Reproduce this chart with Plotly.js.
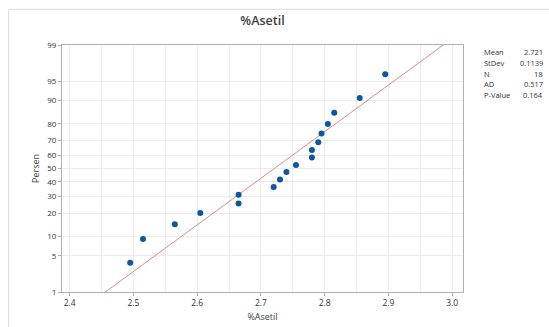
<!DOCTYPE html>
<html>
<head>
<meta charset="utf-8">
<script src="https://cdn.plot.ly/plotly-3.0.1.min.js"></script>
<style>html,body{margin:0;padding:0;background:#fff;}#chart{width:549px;height:327px;}</style>
</head>
<body>
<div id="chart"></div>
<script>
// Data
const asetil = [2.495, 2.515, 2.565, 2.605, 2.665, 2.665, 2.72, 2.73, 2.74, 2.755, 2.78, 2.78, 2.79, 2.795, 2.805, 2.815, 2.855, 2.895];
const statLabels = ["Mean", "StDev", "N", "AD", "P-Value"];
const statValues = ["2.721", "0.1139", "18", "0.517", "0.164"];
const fitMean = 2.721;
const fitStDev = 0.1139;
const yTickPercents = [1, 5, 10, 20, 30, 40, 50, 60, 70, 80, 90, 95, 99];
const xTickVals = [2.4, 2.5, 2.6, 2.7, 2.8, 2.9, 3.0];

// inverse normal CDF (Acklam)
function normInv(p) {
  const a = [-3.969683028665376e+01, 2.209460984245205e+02, -2.759285104469687e+02, 1.383577518672690e+02, -3.066479806614716e+01, 2.506628277459239e+00];
  const b = [-5.447609879822406e+01, 1.615858368580409e+02, -1.556989798598866e+02, 6.680131188771972e+01, -1.328068155288572e+01];
  const c = [-7.784894002430293e-03, -3.223964580411365e-01, -2.400758277161838e+00, -2.549732539343734e+00, 4.374664141464968e+00, 2.938163982698783e+00];
  const d = [7.784695709041462e-03, 3.224671290700398e-01, 2.445134137142996e+00, 3.754408661907416e+00];
  const pl = 0.02425, ph = 1 - pl;
  let q, r;
  if (p < pl) { q = Math.sqrt(-2 * Math.log(p)); return (((((c[0]*q+c[1])*q+c[2])*q+c[3])*q+c[4])*q+c[5]) / ((((d[0]*q+d[1])*q+d[2])*q+d[3])*q+1); }
  if (p <= ph) { q = p - 0.5; r = q*q; return (((((a[0]*r+a[1])*r+a[2])*r+a[3])*r+a[4])*r+a[5])*q / (((((b[0]*r+b[1])*r+b[2])*r+b[3])*r+b[4])*r+1); }
  q = Math.sqrt(-2 * Math.log(1 - p)); return -(((((c[0]*q+c[1])*q+c[2])*q+c[3])*q+c[4])*q+c[5]) / ((((d[0]*q+d[1])*q+d[2])*q+d[3])*q+1);
}

const n = asetil.length;
const sorted = asetil.slice().sort((u, v) => u - v);
const ranksZ = sorted.map((v, i) => normInv((i + 1 - 0.3) / (n + 0.4)));
const pct = sorted.map((v, i) => 100 * (i + 1 - 0.3) / (n + 0.4));

const lineZ = [-3, 3];
const lineX = lineZ.map(z => fitMean + fitStDev * z);

const font = "Open Sans, Noto Sans, sans-serif";

const traces = [
  {x: lineX, y: lineZ, mode: "lines", line: {color: "#d98b86", width: 1}, hoverinfo: "skip", showlegend: false},
  {x: sorted, y: ranksZ, mode: "markers", marker: {color: "#0b57a4", size: 6}, text: pct.map(p => p.toFixed(1)), showlegend: false}
];

const annotations = [];
statLabels.forEach((lab, i) => {
  const yy = 52 + i * 10.6;
  annotations.push({xref: "paper", yref: "paper", x: (482 - 62.3) / (463 - 62.3), y: 1 - (yy - 44.7) / (291.7 - 44.7), xanchor: "left", yanchor: "middle", text: lab, showarrow: false, font: {family: font, size: 7.5, color: "#333"}});
  annotations.push({xref: "paper", yref: "paper", x: (545 - 62.3) / (463 - 62.3), y: 1 - (yy - 44.7) / (291.7 - 44.7), xanchor: "right", yanchor: "middle", text: statValues[i], showarrow: false, font: {family: font, size: 7.5, color: "#333"}});
});

const layout = {
  width: 549, height: 327,
  margin: {l: 62.3, r: 86, t: 44.7, b: 35.3},
  paper_bgcolor: "#fff", plot_bgcolor: "#fff",
  title: {text: "%Asetil", x: 0.5, xref: "paper", xanchor: "center", y: 1 - 21 / 327, yref: "container", yanchor: "middle", font: {family: font, size: 12.5, color: "#404040", weight: 600}},
  xaxis: {
    range: [2.388, 3.017], tickvals: xTickVals, ticktext: xTickVals.map(v => v.toFixed(1)),
    showgrid: true, gridcolor: "#ececec", gridwidth: 1,
    minor: {dtick: 0.05, tick0: 2.4, showgrid: true, gridcolor: "#ececec", ticks: ""},
    showline: true, linecolor: "#b0b0b0", linewidth: 1, mirror: true,
    ticks: "outside", ticklen: 3, tickcolor: "#b0b0b0", zeroline: false,
    tickfont: {family: font, size: 8.5, color: "#333"},
    title: {text: "%Asetil", standoff: 6, font: {family: font, size: 9, color: "#404040"}}
  },
  yaxis: {
    range: [normInv(0.01), normInv(0.99)],
    tickvals: yTickPercents.map(p => normInv(p / 100)), ticktext: yTickPercents.map(String),
    showgrid: true, gridcolor: "#ececec", gridwidth: 1,
    showline: true, linecolor: "#b0b0b0", linewidth: 1, mirror: true,
    ticks: "outside", ticklen: 3, tickcolor: "#b0b0b0", zeroline: false,
    tickfont: {family: font, size: 8, color: "#333"},
    title: {text: "Persen", standoff: 6, font: {family: font, size: 9, color: "#404040"}}
  },
  annotations: annotations,
  shapes: [
    {type: "line", xref: "paper", yref: "paper", x0: (9 - 62.3) / (463 - 62.3), x1: 2, y0: 1 + (44.7 - 9) / 247, y1: 1 + (44.7 - 9) / 247, line: {color: "#dcdcdc", width: 1}},
    {type: "line", xref: "paper", yref: "paper", x0: (9 - 62.3) / (463 - 62.3), x1: (9 - 62.3) / (463 - 62.3), y0: 1 + (44.7 - 9) / 247, y1: -1, line: {color: "#dcdcdc", width: 1}}
  ]
};

Plotly.newPlot("chart", traces, layout, {staticPlot: true, displayModeBar: false});
</script>
</body>
</html>
